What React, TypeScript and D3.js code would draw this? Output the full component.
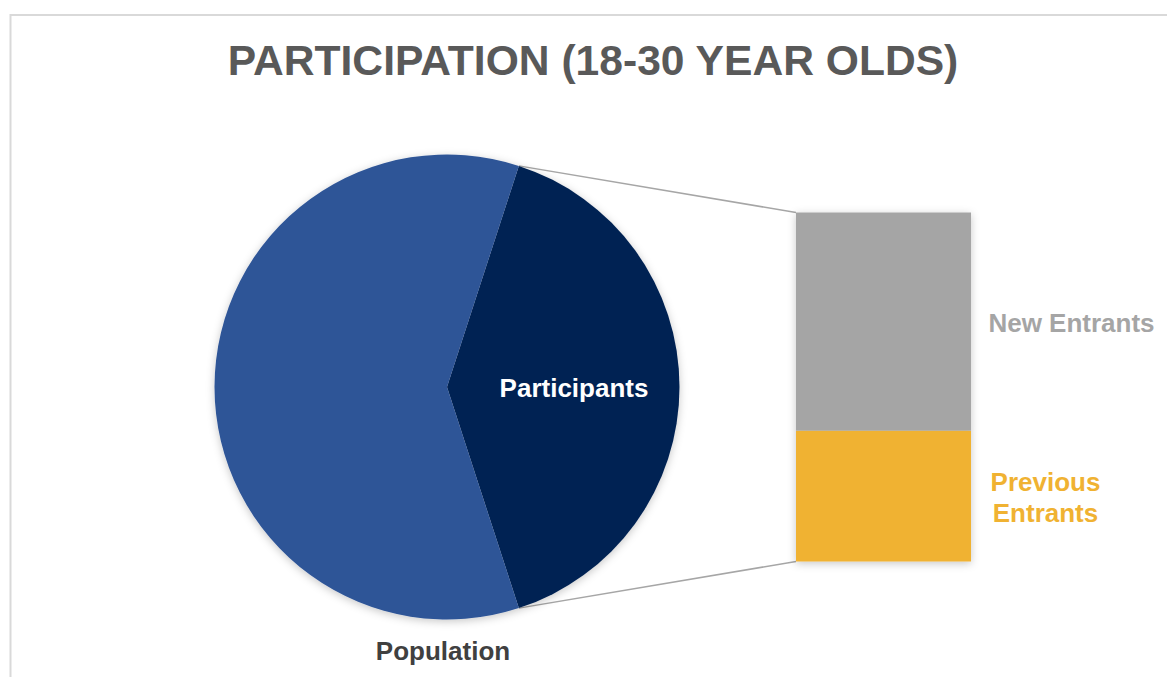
import React from "react";
import * as d3 from "d3";

const pieCategories = ["Participants", "Population"];
const pieValues = [40, 60];
const pieColors = ["#002352", "#2f5597"];

const barCategories = ["Previous Entrants", "New Entrants"];
const barValues = [15, 25];
const barColors = ["#f0b232", "#a5a5a5"];

const title = "PARTICIPATION (18-30 YEAR OLDS)";

export default function App() {
  const W = 1167;
  const H = 677;
  const cx = 447;
  const cy = 387;
  const r = 232.5;

  const span = (pieValues[0] / d3.sum(pieValues)) * 2 * Math.PI;
  const pie = d3
    .pie<number>()
    .sort(null)
    .startAngle(Math.PI / 2 - span / 2)
    .endAngle(Math.PI / 2 - span / 2 + 2 * Math.PI);
  const arcs = pie(pieValues);
  const arcGen = d3.arc<d3.PieArcDatum<number>>().innerRadius(0).outerRadius(r);

  const barTotal = d3.sum(barValues);
  const y = d3.scaleLinear().domain([0, barTotal]).range([561.5, 212.5]);
  const barX = 796;
  const barW = 175;

  const stacks: { cat: string; y0: number; y1: number; color: string }[] = [];
  let acc = 0;
  barValues.forEach((v, i) => {
    stacks.push({ cat: barCategories[i], y0: acc, y1: acc + v, color: barColors[i] });
    acc += v;
  });

  const a0 = arcs[0].startAngle;
  const a1 = arcs[0].endAngle;
  const p0: [number, number] = [cx + r * Math.sin(a0), cy - r * Math.cos(a0)];
  const p1: [number, number] = [cx + r * Math.sin(a1), cy - r * Math.cos(a1)];

  const font = "'Liberation Sans', Arial, sans-serif";

  return (
    <svg
      width={W}
      height={H}
      style={{ position: "absolute", left: 0, top: 0, display: "block", background: "#fff" }}
    >
      <defs>
        <filter id="sh" x="-20%" y="-20%" width="140%" height="140%">
          <feDropShadow dx="0" dy="2" stdDeviation="4" floodColor="#000" floodOpacity="0.22" />
        </filter>
      </defs>
      <rect x={10.5} y={15} width={1300} height={800} fill="#fff" stroke="#d9d9d9" strokeWidth={2} />
      <text
        x={593}
        y={74.5}
        textAnchor="middle"
        fontFamily={font}
        fontWeight="bold"
        fontSize={42.6}
        fill="#595959"
      >
        {title}
      </text>

      <line x1={p0[0]} y1={p0[1]} x2={barX} y2={y(barTotal)} stroke="#a6a6a6" strokeWidth={1.5} />
      <line x1={p1[0]} y1={p1[1]} x2={barX} y2={y(0)} stroke="#a6a6a6" strokeWidth={1.5} />

      <g filter="url(#sh)">
        {arcs.map((a, i) => (
          <path key={pieCategories[i]} d={arcGen(a) || ""} transform={`translate(${cx},${cy})`} fill={pieColors[i]} />
        ))}
      </g>

      <g filter="url(#sh)">
        {stacks.map((s) => (
          <rect key={s.cat} x={barX} y={y(s.y1)} width={barW} height={y(s.y0) - y(s.y1)} fill={s.color} />
        ))}
      </g>

      <text x={574} y={396.5} textAnchor="middle" fontFamily={font} fontWeight="bold" fontSize={26} fill="#ffffff">
        {pieCategories[0]}
      </text>
      <text x={443} y={660} textAnchor="middle" fontFamily={font} fontWeight="bold" fontSize={26} fill="#404040">
        {pieCategories[1]}
      </text>
      <text x={1071.5} y={331.5} textAnchor="middle" fontFamily={font} fontWeight="bold" fontSize={26} fill={barColors[1]}>
        {barCategories[1]}
      </text>
      <text x={1045.5} y={491} textAnchor="middle" fontFamily={font} fontWeight="bold" fontSize={26} fill={barColors[0]}>
        <tspan x={1045.5}>Previous</tspan>
        <tspan x={1045.5} dy={31}>Entrants</tspan>
      </text>
    </svg>
  );
}
